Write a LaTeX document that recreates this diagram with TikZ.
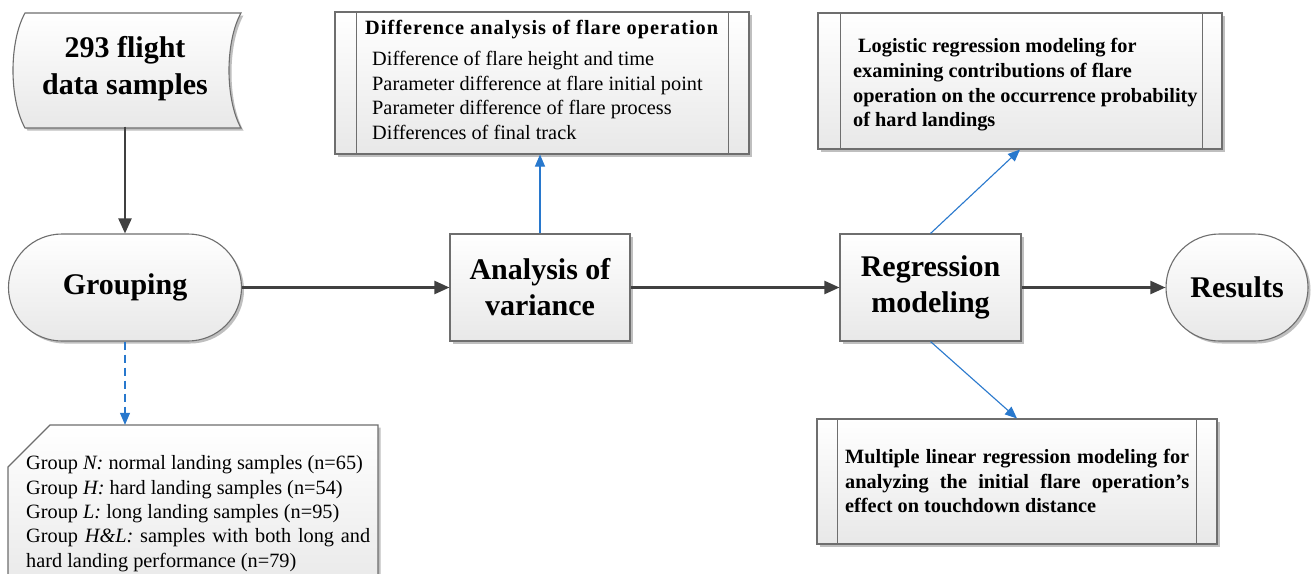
\documentclass[tikz,border=0pt]{standalone}
\usepackage{fontspec}
\setmainfont{Liberation Serif}
\usetikzlibrary{arrows.meta,shadows,calc}
\hyphenpenalty=10000
\exhyphenpenalty=10000
\definecolor{edgegray}{RGB}{110,110,110}
\definecolor{flowgray}{RGB}{64,64,64}
\definecolor{linkblue}{RGB}{40,120,205}
\tikzset{
 boxfill/.style={draw=edgegray, line width=1.1pt, top color=white, bottom color=black!9,
   drop shadow={shadow xshift=2.5pt, shadow yshift=-2.5pt, opacity=0.25, fill=black}},
 proc/.style={boxfill, rectangle, minimum width=180pt, minimum height=107pt, inner sep=0pt,
   font=\fontsize{30}{36}\selectfont\bfseries, align=center},
 term/.style={proc, rounded corners=53.5pt},
 subproc/.style={boxfill, rectangle, inner sep=0pt},
 inner/.style={draw=edgegray, line width=1.1pt},
 plain/.style={inner sep=0pt, font=\fontsize{20.3}{24.4}\selectfont, align=left},
 plainbold/.style={inner sep=0pt, font=\fontsize{20.3}{24.7}\selectfont\bfseries, align=left},
 flow/.style={draw=flowgray, line width=2.2pt, -{Triangle[length=15pt,width=13pt]}},
 link/.style={draw=linkblue, line width=1.1pt, -{Triangle[length=12pt,width=10pt]}},
}
\begin{document}
\begin{tikzpicture}[x=1pt,y=-1pt]
\useasboundingbox (0,0) rectangle (1312,573);
\fill[white] (0,0) rectangle (1312,573);

% stored-data shape
\path[boxfill] (25,13) -- (241,13) .. controls (225,42) and (225,99) .. (241,128)
  -- (25,128) .. controls (9,99) and (9,42) .. (25,13) -- cycle;
\node[inner sep=0pt, minimum width=216pt, minimum height=115pt, align=center,
  font=\fontsize{30}{37}\selectfont\bfseries] (src) at (125,69) {293 flight\\data samples};

% main flow
\node[term, minimum width=233pt] (grp) at (125,287.5) {Grouping};
\node[proc] (anova) at (540,287.5) {Analysis of\\variance};
\node[proc, minimum width=181pt] (reg) at (930.5,287.5) {Regression\\modeling};
\node[term, minimum width=142pt] (res) at (1237,287.5) {Results};

% difference box
\node[subproc, minimum width=414pt, minimum height=142pt] (diff) at (542,83) {};
\draw[inner] ([xshift=22pt]diff.north west) -- ([xshift=22pt]diff.south west);
\draw[inner] ([xshift=-21pt]diff.north east) -- ([xshift=-21pt]diff.south east);
\node[inner sep=0pt, anchor=west, align=left,
  font=\fontsize{20.3}{24.7}\selectfont\bfseries\addfontfeature{LetterSpace=5}] (difft) at (365,30)
  {Difference analysis of flare operation};
\node[plain, anchor=west] (diffi) at (372,95.5)
  {Difference of flare height and time\\Parameter difference at flare initial point\\Parameter difference of flare process\\Differences of final track};

% logistic box
\node[subproc, minimum width=404pt, minimum height=136pt] (logi) at (1020,81) {};
\draw[inner] ([xshift=23pt]logi.north west) -- ([xshift=23pt]logi.south west);
\draw[inner] ([xshift=-20pt]logi.north east) -- ([xshift=-20pt]logi.south east);
\node[plainbold, anchor=west] (logit) at (853,85)
  {\hspace{5pt}Logistic regression modeling for\\examining contributions of flare\\operation on the occurrence probability\\of hard landings};

% multiple linear box
\node[subproc, minimum width=400pt, minimum height=125pt] (multi) at (1017,481.5) {};
\draw[inner] ([xshift=21pt]multi.north west) -- ([xshift=21pt]multi.south west);
\draw[inner] ([xshift=-21pt]multi.north east) -- ([xshift=-21pt]multi.south east);
\node[plainbold, anchor=west, text width=344pt, align=justify] (multit) at (845,481)
  {Multiple linear regression modeling for analyzing the initial flare operation's effect on touchdown distance};

% group box (card)
\path[boxfill] (50,425) -- (378,425) -- (378,595) -- (8,595) -- (8,467) -- cycle;
\node[inner sep=0pt, minimum width=370pt, minimum height=165pt] (gbox) at (193,507.5) {};
\node[plain, anchor=west, text width=344pt, align=justify] (gtext) at (26,513.6)
  {Group \textit{N:} normal landing samples (n=65)\\
   Group \textit{H:} hard landing samples (n=54)\\
   Group \textit{L:} long landing samples (n=95)\\
   Group \textit{H\&L:} samples with both long and hard landing performance (n=79)};

% connectors
\draw[flow] (src.south) -- (grp.north);
\draw[flow] (grp.east) -- (anova.west);
\draw[flow] (anova.east) -- (reg.west);
\draw[flow] (reg.east) -- (res.west);
\draw[link] (anova.north) -- (anova.north |- diff.south);
\draw[link] (reg.north) -- (logi.south);
\draw[link] (reg.south) -- (multi.north);
\draw[link, dash pattern=on 8pt off 5pt] (grp.south) -- (grp.south |- gbox.north);
\end{tikzpicture}
\end{document}
